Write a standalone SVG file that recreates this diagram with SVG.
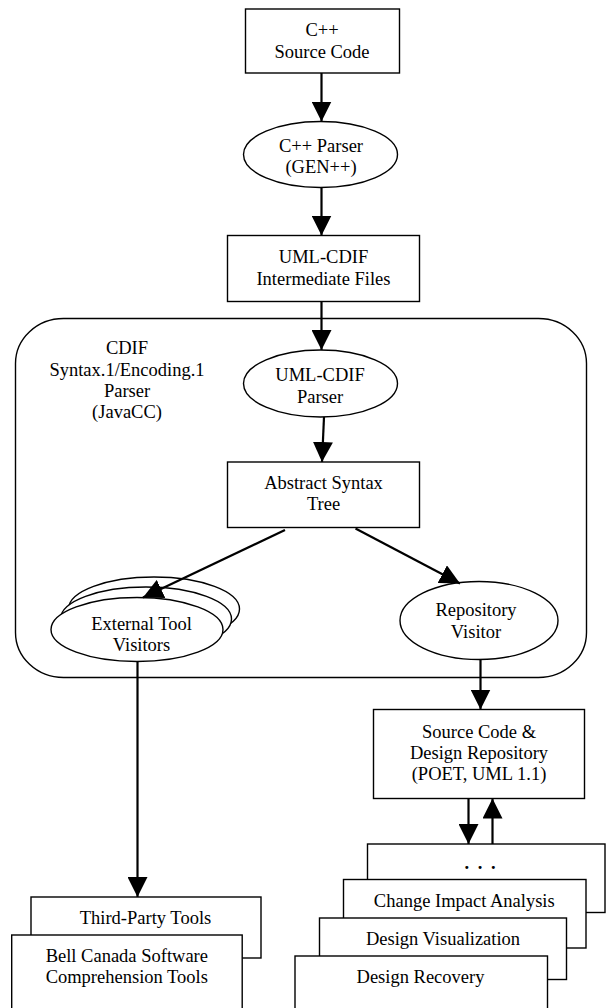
<svg xmlns="http://www.w3.org/2000/svg" width="606" height="1008" viewBox="0 0 606 1008">
<style>
.n{fill:#fff;stroke:#000;stroke-width:1.4}
.c{fill:none;stroke:#000;stroke-width:1.4}
.t{font-family:"Liberation Serif","Times New Roman",serif;font-size:18.5px;fill:#000;text-anchor:middle}
.a{fill:none;stroke:#000;stroke-width:2.2;marker-end:url(#ah)}
</style>
<defs>
<marker id="ah" markerUnits="userSpaceOnUse" markerWidth="20" markerHeight="20" refX="20" refY="10" orient="auto" viewBox="0 0 20 20">
<path d="M0,0 L20,10 L0,20 z" fill="#000"/>
</marker>
</defs>
<rect width="606" height="1008" fill="#fff"/>

<g id="container">
<rect class="c" x="15.5" y="318.5" width="571" height="359" rx="48" ry="45"/>
<text class="t" x="127" y="354">CDIF</text>
<text class="t" x="127" y="375.5">Syntax.1/Encoding.1</text>
<text class="t" x="127" y="397">Parser</text>
<text class="t" x="127" y="418">(JavaCC)</text>
</g>

<g id="source">
<rect class="n" x="245.5" y="9" width="154" height="64"/>
<text class="t" x="322" y="36">C++</text>
<text class="t" x="322" y="58">Source Code</text>
</g>

<g id="cppparser">
<ellipse class="n" cx="320.5" cy="154.5" rx="77" ry="33"/>
<text class="t" x="321" y="151.5">C++ Parser</text>
<text class="t" x="321" y="172.5">(GEN++)</text>
</g>

<g id="intermediate">
<rect class="n" x="227.5" y="235.5" width="192" height="66"/>
<text class="t" x="323.5" y="263">UML-CDIF</text>
<text class="t" x="323.5" y="285">Intermediate Files</text>
</g>

<g id="cdifparser">
<ellipse class="n" cx="320.5" cy="383.5" rx="77" ry="33.5"/>
<text class="t" x="320" y="381">UML-CDIF</text>
<text class="t" x="320" y="402.5">Parser</text>
</g>

<g id="ast">
<rect class="n" x="227.5" y="462" width="192" height="65.5"/>
<text class="t" x="323.5" y="489">Abstract Syntax</text>
<text class="t" x="323.5" y="510">Tree</text>
</g>

<g id="external">
<ellipse class="n" cx="154" cy="609" rx="85.5" ry="32"/>
<ellipse class="n" cx="146" cy="619" rx="85.5" ry="32"/>
<ellipse class="n" cx="137" cy="629.5" rx="86" ry="32"/>
<text class="t" x="141.5" y="630">External Tool</text>
<text class="t" x="141.5" y="651">Visitors</text>
</g>

<g id="repovisitor">
<ellipse class="n" cx="479" cy="620.5" rx="79" ry="39"/>
<text class="t" x="476" y="616">Repository</text>
<text class="t" x="476" y="637.5">Visitor</text>
</g>

<g id="repository">
<rect class="n" x="373.5" y="709.5" width="211" height="89"/>
<text class="t" x="479" y="737.5">Source Code &amp;</text>
<text class="t" x="479" y="759">Design Repository</text>
<text class="t" x="479" y="780">(POET, UML 1.1)</text>
</g>

<g id="tools">
<rect class="n" x="367.5" y="844" width="237.5" height="68.5"/>
<text class="t" x="464.4 469 477.7 482.3 491" y="868.5" style="text-anchor:start;font-weight:bold">. . .</text>
<rect class="n" x="343.5" y="879.5" width="242.5" height="68.5"/>
<text class="t" x="464.3" y="907">Change Impact Analysis</text>
<rect class="n" x="319.5" y="918" width="247" height="61.5"/>
<text class="t" x="443" y="944.5">Design Visualization</text>
<rect class="n" x="295" y="956" width="252.5" height="60"/>
<text class="t" x="420.5" y="983">Design Recovery</text>
</g>

<g id="thirdparty">
<rect class="n" x="31" y="897" width="230" height="61"/>
<text class="t" x="145.5" y="923.5">Third-Party Tools</text>
<rect class="n" x="11.7" y="935" width="230.5" height="80"/>
<text class="t" x="126.8" y="961.7">Bell Canada Software</text>
<text class="t" x="126.8" y="983.3">Comprehension Tools</text>
</g>

<g id="connectors">
<line class="a" x1="321.5" y1="73" x2="321.5" y2="121.5"/>
<line class="a" x1="321.5" y1="187.5" x2="321.5" y2="235.5"/>
<line class="a" x1="321.5" y1="301.5" x2="321.5" y2="350"/>
<line class="a" x1="324" y1="417" x2="322" y2="462"/>
<line class="a" x1="285" y1="530" x2="143" y2="597.5"/>
<line class="a" x1="355.5" y1="528.5" x2="460" y2="583.5"/>
<line class="a" x1="137.5" y1="661.5" x2="137.5" y2="897"/>
<line class="a" x1="480.5" y1="659.5" x2="480.5" y2="709.5"/>
<line class="a" x1="468.5" y1="798.5" x2="468.5" y2="844"/>
<line class="a" x1="492.5" y1="844" x2="492.5" y2="798.5"/>
</g>
</svg>
